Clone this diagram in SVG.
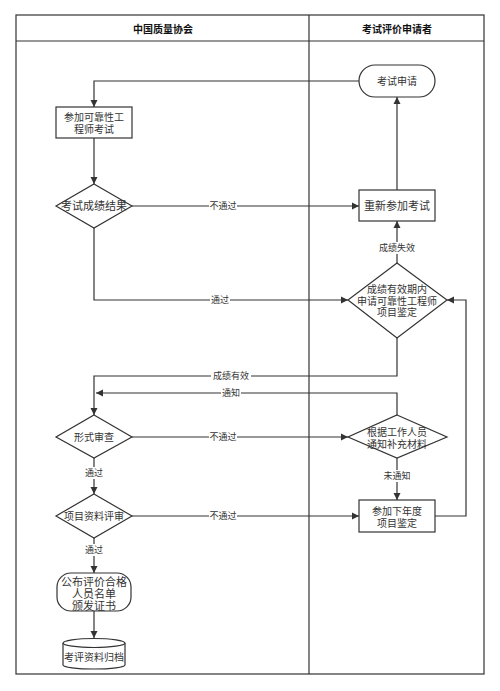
<svg xmlns="http://www.w3.org/2000/svg" width="500" height="691" viewBox="0 0 500 691">
<defs>
<marker id="ah" markerWidth="8" markerHeight="8" refX="7" refY="4" orient="auto" markerUnits="userSpaceOnUse">
<path d="M0,0.5 L7,4 L0,7.5 Z" fill="#333"/>
</marker>
<style>
.ln{fill:none;stroke:#333;stroke-width:1.2}
.cn{fill:none;stroke:#333;stroke-width:1.2;marker-end:url(#ah)}
.sh{fill:#fff;stroke:#333;stroke-width:1.2}
.t{font-family:"Liberation Sans","Noto Sans CJK SC",sans-serif;font-size:10px;fill:#333;text-anchor:middle;dominant-baseline:central}
.tl{font-size:11px}
.h{font-family:"Liberation Sans","Noto Sans CJK SC",sans-serif;font-size:10px;font-weight:bold;fill:#111;text-anchor:middle;dominant-baseline:central}
.lb{font-family:"Liberation Sans","Noto Sans CJK SC",sans-serif;font-size:9px;fill:#333;text-anchor:middle;dominant-baseline:central}
.lbg{fill:#fff}
</style>
</defs>
<rect width="500" height="691" fill="#fff"/>
<g id="pool">
<rect x="16" y="15" width="468" height="659" class="ln"/>
<line x1="16" y1="41" x2="484" y2="41" class="ln"/>
<line x1="309" y1="15" x2="309" y2="674" class="ln"/>
<text x="163" y="29.5" class="h">中国质量协会</text>
<text x="397" y="29.5" class="h">考试评价申请者</text>
</g>
<g id="connectors">
<path d="M359,81 H94 V107" class="cn"/>
<path d="M94,138 V184" class="cn"/>
<path d="M132,206 H359" class="cn"/>
<path d="M397,190 V97" class="cn"/>
<path d="M397,263 V221" class="cn"/>
<path d="M94,228 V300 H348" class="cn"/>
<path d="M397,338 V376 H94 V415" class="cn"/>
<path d="M397,415 V393 H96" class="cn"/>
<path d="M132,437 H348" class="cn"/>
<path d="M397,458 V500" class="cn"/>
<path d="M435,516 H466 V300 H447" class="cn"/>
<path d="M94,458 V494" class="cn"/>
<path d="M132,516 H359" class="cn"/>
<path d="M94,538 V573" class="cn"/>
<path d="M94,611 V638" class="cn"/>
<rect x="209" y="200" width="28" height="12" class="lbg"/>
<text x="223" y="206" class="lb">不通过</text>
<rect x="375" y="242" width="44" height="12" class="lbg"/>
<text x="397" y="248" class="lb">成绩失效</text>
<rect x="210" y="294" width="20" height="12" class="lbg"/>
<text x="220" y="300" class="lb">通过</text>
<rect x="211" y="370" width="40" height="12" class="lbg"/>
<text x="231" y="376" class="lb">成绩有效</text>
<rect x="221" y="387" width="20" height="12" class="lbg"/>
<text x="231" y="393" class="lb">通知</text>
<rect x="209" y="431" width="28" height="12" class="lbg"/>
<text x="223" y="437" class="lb">不通过</text>
<rect x="384" y="470" width="28" height="12" class="lbg"/>
<text x="397" y="476" class="lb">未通知</text>
<rect x="84" y="467" width="20" height="12" class="lbg"/>
<text x="94" y="473" class="lb">通过</text>
<rect x="209" y="510" width="28" height="12" class="lbg"/>
<text x="223" y="516" class="lb">不通过</text>
<rect x="84" y="544" width="20" height="12" class="lbg"/>
<text x="94" y="550" class="lb">通过</text>
</g>
<g id="n_apply">
<rect x="359" y="65" width="76" height="32" rx="16" ry="16" class="sh"/>
<text x="397" y="81" class="t">考试申请</text>
</g>
<g id="n_exam">
<rect x="56" y="107" width="76" height="31" class="sh"/>
<text x="94" y="117" class="t">参加可靠性工</text>
<text x="94" y="129.5" class="t">程师考试</text>
</g>
<g id="n_result">
<polygon points="94,184 132,206 94,228 56,206" class="sh"/>
<text x="94" y="206" class="t tl">考试成绩结果</text>
</g>
<g id="n_retake">
<rect x="359" y="190" width="76" height="31" class="sh"/>
<text x="397" y="206" class="t tl">重新参加考试</text>
</g>
<g id="n_valid">
<polygon points="397,263 447,300 397,338 348,300" class="sh"/>
<text x="397" y="289.3" class="t">成绩有效期内</text>
<text x="397" y="301" class="t">申请可靠性工程师</text>
<text x="397" y="312.7" class="t">项目鉴定</text>
</g>
<g id="n_formal">
<polygon points="94,415 132,437 94,458 56,437" class="sh"/>
<text x="94" y="437" class="t">形式审查</text>
</g>
<g id="n_supplement">
<polygon points="397,415 447,437 397,458 348,437" class="sh"/>
<text x="397" y="432" class="t">根据工作人员</text>
<text x="397" y="444" class="t">通知补充材料</text>
</g>
<g id="n_next">
<rect x="359" y="500" width="76" height="32" class="sh"/>
<text x="397" y="511" class="t">参加下年度</text>
<text x="397" y="523.5" class="t">项目鉴定</text>
</g>
<g id="n_review">
<polygon points="94,494 132,516 94,538 56,516" class="sh"/>
<text x="94" y="516" class="t">项目资料评审</text>
</g>
<g id="n_publish">
<rect x="57" y="573" width="74" height="38" rx="14" ry="14" class="sh"/>
<text x="94" y="581.5" class="t tl">公布评价合格</text>
<text x="94" y="593.8" class="t tl">人员名单</text>
<text x="94" y="606.1" class="t tl">颁发证书</text>
</g>
<g id="n_archive">
<path d="M63,643 V665 A31,4 0 0 0 125,665 V643" class="sh"/>
<ellipse cx="94" cy="643" rx="31" ry="4.5" class="sh"/>
<text x="94" y="657" class="t">考评资料归档</text>
</g>
</svg>
